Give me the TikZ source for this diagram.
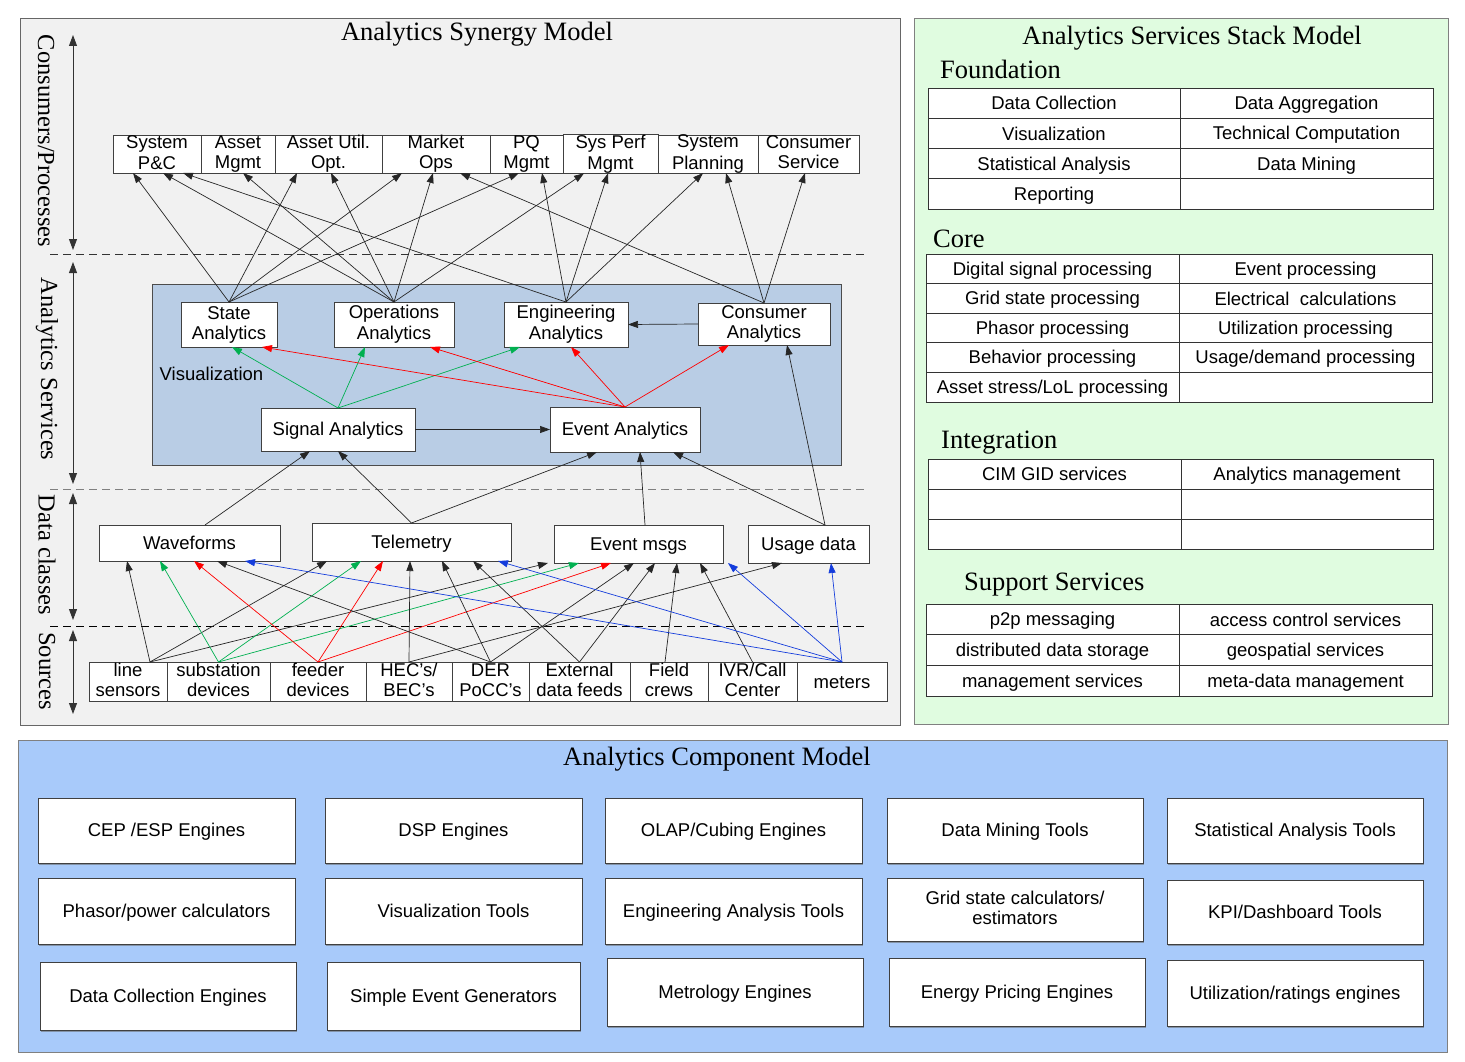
\documentclass[tikz,border=0pt]{standalone}
\usepackage{fontspec}
\setmainfont{Liberation Serif}
\setsansfont{Liberation Sans}
\usetikzlibrary{arrows.meta,shadows}
\definecolor{panelgray}{RGB}{241,241,241}
\definecolor{innerblue}{RGB}{185,205,229}
\definecolor{panelgreen}{RGB}{224,252,224}
\definecolor{panelblue}{RGB}{168,202,250}
\definecolor{agreen}{RGB}{0,176,80}
\definecolor{ared}{RGB}{255,0,0}
\definecolor{ablue}{RGB}{20,60,220}
\newcommand{\zs}{\rule[-3pt]{0pt}{19.5pt}}
\begin{document}
\begin{tikzpicture}[x=1pt,y=-1pt,
  sans/.style={font=\sffamily\fontsize{18.5}{20}\selectfont},
  ttl/.style={font=\rmfamily\fontsize{26.5}{30}\selectfont, inner sep=0pt},
  axl/.style={font=\rmfamily\fontsize{24.5}{28}\selectfont, inner sep=0pt, rotate=-90},
  box/.style={draw=black!75, line width=0.9pt, fill=white, sans, align=center, inner sep=0pt, outer sep=0pt, execute at begin node={\zs}},
  cell/.style={draw=black!80, line width=0.9pt, fill=white, sans, inner sep=0pt, outer sep=0pt, anchor=north west, execute at begin node={\zs}},
  comp/.style={draw=black!75, line width=0.9pt, fill=white, sans, align=center, inner sep=0pt, outer sep=0pt, execute at begin node={\zs},
     drop shadow={shadow xshift=1.2pt, shadow yshift=-2pt, opacity=0.55, fill=black!60}},
  ar/.style={draw=black!85, line width=0.7pt, -{Triangle[length=10pt,width=7pt]}},
  gar/.style={ar, draw=agreen, -{Triangle[length=10pt,width=7pt,fill=agreen]}},
  rar/.style={ar, draw=ared, -{Triangle[length=10pt,width=7pt,fill=ared]}},
  bar/.style={ar, draw=ablue, -{Triangle[length=10pt,width=7pt,fill=ablue]}},
  axarr/.style={draw=black!80, line width=0.9pt, {Triangle[length=11pt,width=8pt]}-{Triangle[length=11pt,width=8pt]}},
  sep/.style={line width=0.9pt, dash pattern=on 8pt off 5pt}
]
\useasboundingbox (0,0) rectangle (1465,1062);
\fill[white] (0,0) rectangle (1465,1062);

% ---------------- panels ----------------
\draw[draw=black!60, fill=panelgray, line width=0.9pt] (20,18) rectangle (900,725);
\draw[draw=black!50, fill=panelgreen, line width=0.9pt] (914,18) rectangle (1448,724);
\draw[draw=black!50, fill=panelblue, line width=0.9pt] (18,740) rectangle (1447,1052);
\draw[draw=black!70, fill=innerblue, line width=0.9pt] (152,284) rectangle (841,465);

% ---------------- titles ----------------
\node[ttl] (tsyn) at (477,34) {Analytics Synergy Model};
\node[ttl] (tstack) at (1192,38) {Analytics Services Stack Model};
\node[ttl, anchor=west] (tfound) at (940,69) {Foundation};
\node[ttl, anchor=west] (tcore) at (933,239) {Core};
\node[ttl, anchor=west] (tinteg) at (941,443) {Integration};
\node[ttl, anchor=west] (tsupp) at (964,585) {Support Services};
\node[ttl] (tcomp) at (717,759) {Analytics Component Model};

% ---------------- axis ----------------
\node[axl] (lcons) at (46,141) {Consumers/Processes};
\node[axl] (lserv) at (47,369) {Analytics Services};
\node[axl] (ldata) at (47,555) {Data classes};
\node[axl] (lsrc) at (47,671) {Sources};
\coordinate (ax1a) at (73,35);  \coordinate (ax1b) at (73,250);
\coordinate (ax2a) at (73,262); \coordinate (ax2b) at (73,484);
\coordinate (ax3a) at (73,493); \coordinate (ax3b) at (73,620);
\coordinate (ax4a) at (73,630); \coordinate (ax4b) at (73,714);
\draw[axarr] (ax1a) -- (ax1b);
\draw[axarr] (ax2a) -- (ax2b);
\draw[axarr] (ax3a) -- (ax3b);
\draw[axarr] (ax4a) -- (ax4b);
\draw[sep, draw=black!80] (50,254) -- (866,254);
\draw[sep, draw=black!50] (50,489) -- (866,489);
\draw[sep, draw=black] (50,626) -- (866,626);

% ---------------- consumers row ----------------
\node[box, minimum width=88pt, minimum height=38pt] (pc) at (157,154) {System\\\zs P\&C};
\node[box, minimum width=74pt, minimum height=38pt] (am) at (238,154) {Asset\\\zs Mgmt};
\node[box, minimum width=107pt, minimum height=38pt] (au) at (328.5,154) {Asset Util.\\\zs Opt.};
\node[box, minimum width=108pt, minimum height=38pt] (mo) at (436,154) {Market\\\zs Ops};
\node[box, minimum width=73pt, minimum height=38pt] (pq) at (526.5,154) {PQ\\\zs Mgmt};
\node[box, minimum width=95pt, minimum height=38pt] (sp) at (610.5,154) {Sys Perf\\\zs Mgmt};
\node[box, minimum width=100pt, minimum height=38pt] (spl) at (708,154) {System\\\zs Planning};
\node[box, minimum width=101pt, minimum height=38pt] (cs) at (808.5,154) {Consumer\\\zs Service};

% ---------------- analytics services ----------------
\node[box, minimum width=96pt, minimum height=45pt] (st) at (229,324.5) {State\\\zs Analytics};
\node[box, minimum width=120pt, minimum height=45pt] (op) at (394,324.5) {Operations\\\zs Analytics};
\node[box, minimum width=124pt, minimum height=45pt] (en) at (566,324.5) {Engineering\\\zs Analytics};
\node[box, minimum width=132pt, minimum height=42pt] (ca) at (764,324) {Consumer\\\zs Analytics};
\node[box, minimum width=154pt, minimum height=43pt] (sig) at (338,429.5) {Signal Analytics};
\node[box, minimum width=150pt, minimum height=45pt] (ev) at (625,429.5) {Event Analytics};
\node[sans, inner sep=0pt] (vis) at (211.5,374) {Visualization};

% ---------------- data classes ----------------
\node[box, minimum width=181pt, minimum height=36pt] (wav) at (189.5,543) {Waveforms};
\node[box, minimum width=199pt, minimum height=38pt] (tel) at (411.5,542) {Telemetry};
\node[box, minimum width=169pt, minimum height=38pt] (evm) at (638.5,544) {Event msgs};
\node[box, minimum width=121pt, minimum height=38pt] (use) at (808.5,544) {Usage data};

% ---------------- sources ----------------
\node[box, minimum width=78pt, minimum height=39pt] (ls) at (128,681.5) {line\\\zs sensors};
\node[box, minimum width=103pt, minimum height=39pt] (sd) at (218.5,681.5) {substation\\\zs devices};
\node[box, minimum width=96pt, minimum height=39pt] (fd) at (318,681.5) {feeder\\\zs devices};
\node[box, minimum width=86pt, minimum height=39pt] (hec) at (409,681.5) {HEC's/\\\zs BEC's};
\node[box, minimum width=77pt, minimum height=39pt] (der) at (490.5,681.5) {DER\\\zs PoCC's};
\node[box, minimum width=101pt, minimum height=39pt] (ext) at (579.5,681.5) {External\\\zs data feeds};
\node[box, minimum width=78pt, minimum height=39pt] (fc) at (669,681.5) {Field\\\zs crews};
\node[box, minimum width=89pt, minimum height=39pt] (ivr) at (752.5,681.5) {IVR/Call\\\zs Center};
\node[box, minimum width=90pt, minimum height=39pt] (met) at (842,681.5) {meters};

% ---------------- analytics -> consumers ----------------
\draw[ar] (st.north) -- (133,0 |- pc.south);
\draw[ar] (st.north) -- (297,0 |- au.south);
\draw[ar] (st.north) -- (402,0 |- mo.south);
\draw[ar] (st.north) -- (519,0 |- pq.south);
\draw[ar] (op.north) -- (163,0 |- pc.south);
\draw[ar] (op.north) -- (243,0 |- am.south);
\draw[ar] (op.north) -- (331,0 |- au.south);
\draw[ar] (op.north) -- (433,0 |- mo.south);
\draw[ar] (op.north) -- (584,0 |- sp.south);
\draw[ar] (en.north) -- (183,0 |- pc.south);
\draw[ar] (en.north) -- (542,0 |- pq.south);
\draw[ar] (en.north) -- (608,0 |- sp.south);
\draw[ar] (en.north) -- (703,0 |- spl.south);
\draw[ar] (ca.north) -- (460,0 |- mo.south);
\draw[ar] (ca.north) -- (726,0 |- spl.south);
\draw[ar] (ca.north) -- (805,0 |- cs.south);

% ---------------- inside analytics services ----------------
\draw[ar] (ca.west) -- (en.east);
\draw[ar] (sig.east) -- (ev.west);
\draw[gar] (sig.north) -- (232,0 |- st.south);
\draw[gar] (sig.north) -- (365,0 |- op.south);
\draw[gar] (sig.north) -- (520,0 |- en.south);
\draw[rar] (ev.north) -- (262,0 |- st.south);
\draw[rar] (ev.north) -- (430,0 |- op.south);
\draw[rar] (ev.north) -- (571,0 |- en.south);
\draw[rar] (ev.north) -- (729,0 |- ca.south);

% ---------------- data classes -> analytics ----------------
\draw[ar] (205,0 |- wav.north) -- (310,0 |- sig.south);
\draw[ar] (tel.north) -- (338,0 |- sig.south);
\draw[ar] (tel.north) -- (597,0 |- ev.south);
\draw[ar] (645,0 |- evm.north) -- (640,0 |- ev.south);
\draw[ar] (825,0 |- use.north) -- (673,0 |- ev.south);
\draw[ar] (825,0 |- use.north) -- (787,0 |- ca.south);

% ---------------- sources -> data classes ----------------
\draw[ar] (150,0 |- ls.north) -- (127,0 |- wav.south);
\draw[ar] (150,0 |- ls.north) -- (327,0 |- tel.south);
\draw[ar] (150,0 |- ls.north) -- (548,0 |- evm.south);
\draw[gar] (sd.north) -- (160,0 |- wav.south);
\draw[gar] (sd.north) -- (361,0 |- tel.south);
\draw[gar] (sd.north) -- (579,0 |- evm.south);
\draw[rar] (fd.north) -- (194,0 |- wav.south);
\draw[rar] (fd.north) -- (383,0 |- tel.south);
\draw[rar] (fd.north) -- (611,0 |- evm.south);
\draw[ar] (hec.north) -- (410,0 |- tel.south);
\draw[ar] (hec.north) -- (782,0 |- use.south);
\draw[ar] (der.north) -- (217,0 |- wav.south);
\draw[ar] (der.north) -- (442,0 |- tel.south);
\draw[ar] (der.north) -- (634,0 |- evm.south);
\draw[ar] (ext.north) -- (473,0 |- tel.south);
\draw[ar] (ext.north) -- (655,0 |- evm.south);
\draw[ar] (665,0 |- fc.north) -- (677,0 |- evm.south);
\draw[ar] (ivr.north) -- (700,0 |- evm.south);
\draw[bar] (met.north) -- (245,0 |- wav.south);
\draw[bar] (met.north) -- (498,0 |- tel.south);
\draw[bar] (met.north) -- (728,0 |- evm.south);
\draw[bar] (met.north) -- (831,0 |- use.south);

% ---------------- stack model tables ----------------
% Foundation
\node[cell, minimum width=252pt, minimum height=30.3pt] (fa1) at (928,88) {Data Collection};
\node[cell, minimum width=253pt, minimum height=30.3pt] (fb1) at (1180,88) {Data Aggregation};
\node[cell, minimum width=252pt, minimum height=30.3pt] (fa2) at (928,118.3) {Visualization};
\node[cell, minimum width=253pt, minimum height=30.3pt] (fb2) at (1180,118.3) {Technical Computation};
\node[cell, minimum width=252pt, minimum height=30.3pt] (fa3) at (928,148.6) {Statistical Analysis};
\node[cell, minimum width=253pt, minimum height=30.3pt] (fb3) at (1180,148.6) {Data Mining};
\node[cell, minimum width=252pt, minimum height=30.3pt] (fa4) at (928,178.9) {Reporting};
\node[cell, minimum width=253pt, minimum height=30.3pt] (fb4) at (1180,178.9) {};
% Core
\node[cell, minimum width=253pt, minimum height=29.6pt] (ca1) at (926,254) {Digital signal processing};
\node[cell, minimum width=253pt, minimum height=29.6pt] (cb1) at (1179,254) {Event processing};
\node[cell, minimum width=253pt, minimum height=29.6pt] (ca2) at (926,283.6) {Grid state processing};
\node[cell, minimum width=253pt, minimum height=29.6pt] (cb2) at (1179,283.6) {Electrical\ \ calculations};
\node[cell, minimum width=253pt, minimum height=29.6pt] (ca3) at (926,313.2) {Phasor processing};
\node[cell, minimum width=253pt, minimum height=29.6pt] (cb3) at (1179,313.2) {Utilization processing};
\node[cell, minimum width=253pt, minimum height=29.6pt] (ca4) at (926,342.8) {Behavior processing};
\node[cell, minimum width=253pt, minimum height=29.6pt] (cb4) at (1179,342.8) {Usage/demand processing};
\node[cell, minimum width=253pt, minimum height=29.6pt] (ca5) at (926,372.4) {Asset stress/LoL processing};
\node[cell, minimum width=253pt, minimum height=29.6pt] (cb5) at (1179,372.4) {};
% Integration
\node[cell, minimum width=253pt, minimum height=30pt] (ia1) at (928,459) {CIM GID services};
\node[cell, minimum width=252pt, minimum height=30pt] (ib1) at (1181,459) {Analytics management};
\node[cell, minimum width=253pt, minimum height=30pt] (ia2) at (928,489) {};
\node[cell, minimum width=252pt, minimum height=30pt] (ib2) at (1181,489) {};
\node[cell, minimum width=253pt, minimum height=30pt] (ia3) at (928,519) {};
\node[cell, minimum width=252pt, minimum height=30pt] (ib3) at (1181,519) {};
% Support services
\node[cell, minimum width=253pt, minimum height=30.7pt] (sa1) at (926,604) {p2p messaging};
\node[cell, minimum width=253pt, minimum height=30.7pt] (sb1) at (1179,604) {access control services};
\node[cell, minimum width=253pt, minimum height=30.7pt] (sa2) at (926,634.7) {distributed data storage};
\node[cell, minimum width=253pt, minimum height=30.7pt] (sb2) at (1179,634.7) {geospatial services};
\node[cell, minimum width=253pt, minimum height=30.7pt] (sa3) at (926,665.4) {management services};
\node[cell, minimum width=253pt, minimum height=30.7pt] (sb3) at (1179,665.4) {meta-data management};

% ---------------- component model ----------------
\node[comp, minimum width=257pt, minimum height=65pt] (cep) at (166.5,830.5) {CEP /ESP Engines};
\node[comp, minimum width=257pt, minimum height=65pt] (dsp) at (453.5,830.5) {DSP Engines};
\node[comp, minimum width=257pt, minimum height=65pt] (olap) at (733.5,830.5) {OLAP/Cubing Engines};
\node[comp, minimum width=256pt, minimum height=65pt] (dmt) at (1015,830.5) {Data Mining Tools};
\node[comp, minimum width=256pt, minimum height=65pt] (sat) at (1295,830.5) {Statistical Analysis Tools};

\node[comp, minimum width=257pt, minimum height=66pt] (pha) at (166.5,911) {Phasor/power calculators};
\node[comp, minimum width=257pt, minimum height=66pt] (vit) at (453.5,911) {Visualization Tools};
\node[comp, minimum width=257pt, minimum height=66pt] (eat) at (733.5,911) {Engineering Analysis Tools};
\node[comp, minimum width=256pt, minimum height=63pt] (gsc) at (1015,909.5) {Grid state calculators/\\\zs estimators};
\node[comp, minimum width=256pt, minimum height=64pt] (kpi) at (1295,912) {KPI/Dashboard Tools};

\node[comp, minimum width=256pt, minimum height=68pt] (dce) at (168,996) {Data Collection Engines};
\node[comp, minimum width=253pt, minimum height=68pt] (seg) at (453.5,996) {Simple Event Generators};
\node[comp, minimum width=256pt, minimum height=68pt] (mte) at (735,992) {Metrology Engines};
\node[comp, minimum width=256pt, minimum height=68pt] (epe) at (1017,992) {Energy Pricing Engines};
\node[comp, minimum width=256pt, minimum height=66pt] (ure) at (1295,993) {Utilization/ratings engines};
\end{tikzpicture}
\end{document}
